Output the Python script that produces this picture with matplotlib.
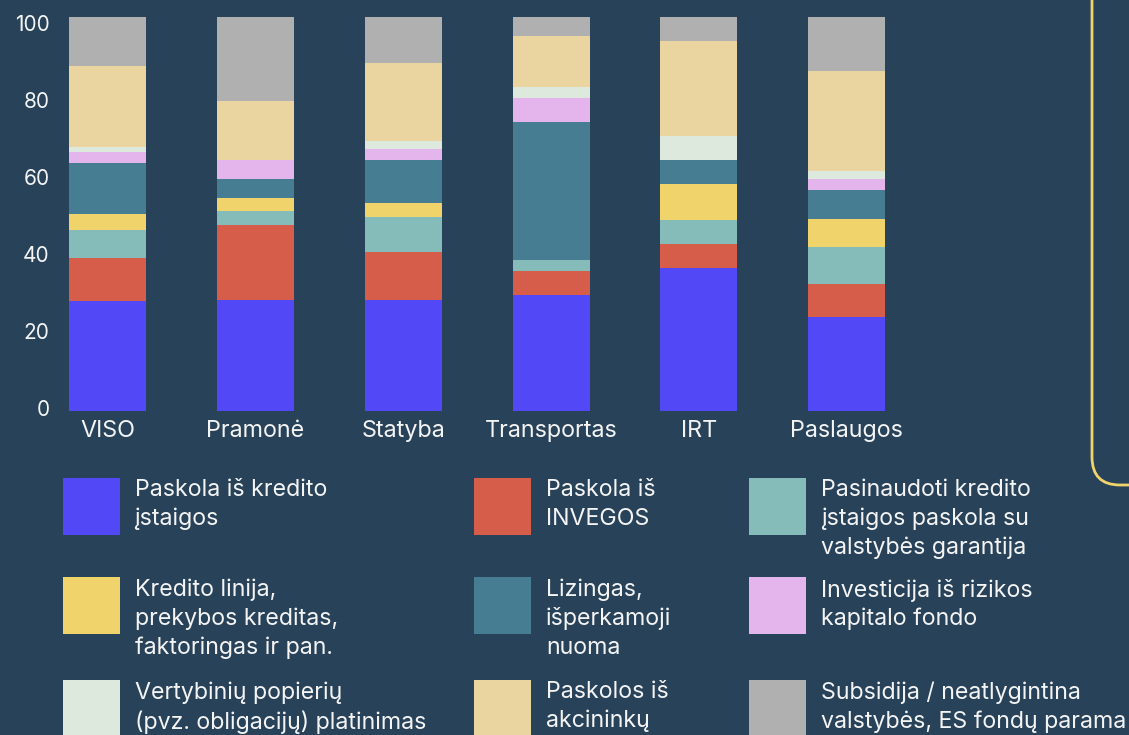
import matplotlib
matplotlib.use("Agg")
import matplotlib.pyplot as plt
import numpy as np
from matplotlib.patches import Rectangle, FancyBboxPatch
from matplotlib.transforms import IdentityTransform

plt.rcParams['font.family'] = ['Inter', 'DejaVu Sans']

# data (percent shares)
categories = ['VISO', 'Pramonė', 'Statyba', 'Transportas', 'IRT', 'Paslaugos']
series_names = [
    'Paskola iš kredito\nįstaigos',
    'Paskola iš\nINVEGOS',
    'Pasinaudoti kredito\nįstaigos paskola su\nvalstybės garantija',
    'Kredito linija,\nprekybos kreditas,\nfaktoringas ir pan.',
    'Lizingas,\nišperkamoji\nnuoma',
    'Investicija iš rizikos\nkapitalo fondo',
    'Vertybinių popierių\n(pvz. obligacijų) platinimas',
    'Paskolos iš\nakcininkų',
    'Subsidija / neatlygintina\nvalstybės, ES fondų parama',
]
kredito_istaiga = [27.8, 28.1, 28.1, 29.4, 36.2, 23.8]
invega = [11.0, 19.0, 12.2, 6.0, 6.1, 8.3]
garantija = [7.1, 3.6, 8.9, 2.8, 6.1, 9.4]
kredito_linija = [4.0, 3.3, 3.5, 0.0, 9.1, 7.1]
lizingas = [13.0, 4.8, 10.9, 35.1, 6.1, 7.4]
rizikos_kapitalas = [2.7, 4.8, 2.8, 6.1, 0.0, 2.8]
vertybiniai = [1.3, 0.0, 2.0, 2.7, 6.1, 2.0]
akcininkai = [20.6, 15.0, 19.8, 13.0, 24.1, 25.4]
subsidija = [12.5, 21.4, 11.8, 4.9, 6.2, 13.8]
ytick_labels = ['0', '20', '40', '60', '80', '100']

series = [kredito_istaiga, invega, garantija, kredito_linija, lizingas,
          rizikos_kapitalas, vertybiniai, akcininkai, subsidija]
colors = ['#5348F6', '#D65D4A', '#85BBB9', '#F1D36B', '#477D93',
          '#E3B5EC', '#DCE9DC', '#EAD5A0', '#B0B0B0']

bg = '#284259'
fg = '#F4F4F4'
W, H = 1129, 735

fig = plt.figure(figsize=(W / 100, H / 100), dpi=100, facecolor=bg)
ax = fig.add_axes([55 / W, (H - 410.7) / H, (900 - 55) / W, (410.7 - 16.7) / H])
ax.set_facecolor(bg)

x = np.arange(len(categories))
bottom = np.zeros(len(categories))
for vals, col in zip(series, colors):
    ax.bar(x, vals, width=0.52, bottom=bottom, color=col, linewidth=0)
    bottom += np.array(vals)

ax.set_xlim(-0.355, 5.36)
ax.set_ylim(0, 100)
# the original's tick labels sit on a slightly squeezed scale
ytick_vals = np.array([0, 20, 40, 60, 80, 100])
ax.set_yticks(0.7 + ytick_vals * 0.976)
ax.set_yticklabels(ytick_labels)
ax.set_xticks(x)
ax.set_xticklabels(categories, fontsize=16.8, color=fg)
ax.tick_params(axis='y', length=0, pad=4, labelsize=15, labelcolor=fg)
ax.tick_params(axis='x', length=0, pad=7)
for s in ax.spines.values():
    s.set_visible(False)

# legend, drawn as a 3x3 grid
sq_x = [62.6, 474, 749]
row_top = [478, 577, 680]
sq = 57
for i, (name, col) in enumerate(zip(series_names, colors)):
    r, c = divmod(i, 3)
    fig.add_artist(Rectangle((sq_x[c] / W, (H - row_top[r] - sq) / H), sq / W, sq / H,
                             transform=fig.transFigure, color=col, linewidth=0))
    fig.text((sq_x[c] + 72) / W, (H - row_top[r] - 1.5) / H, name, color=fg, fontsize=16.7,
             va='top', ha='left', linespacing=1.36)

# yellow rounded frame on the right
frame = FancyBboxPatch((1092, H - 485), 200, 600,
                       boxstyle="round,pad=0,rounding_size=28",
                       transform=IdentityTransform(), facecolor='none',
                       edgecolor='#F1D36B', linewidth=2)
fig.add_artist(frame)

fig.savefig('out.png', dpi=100, facecolor=bg)
